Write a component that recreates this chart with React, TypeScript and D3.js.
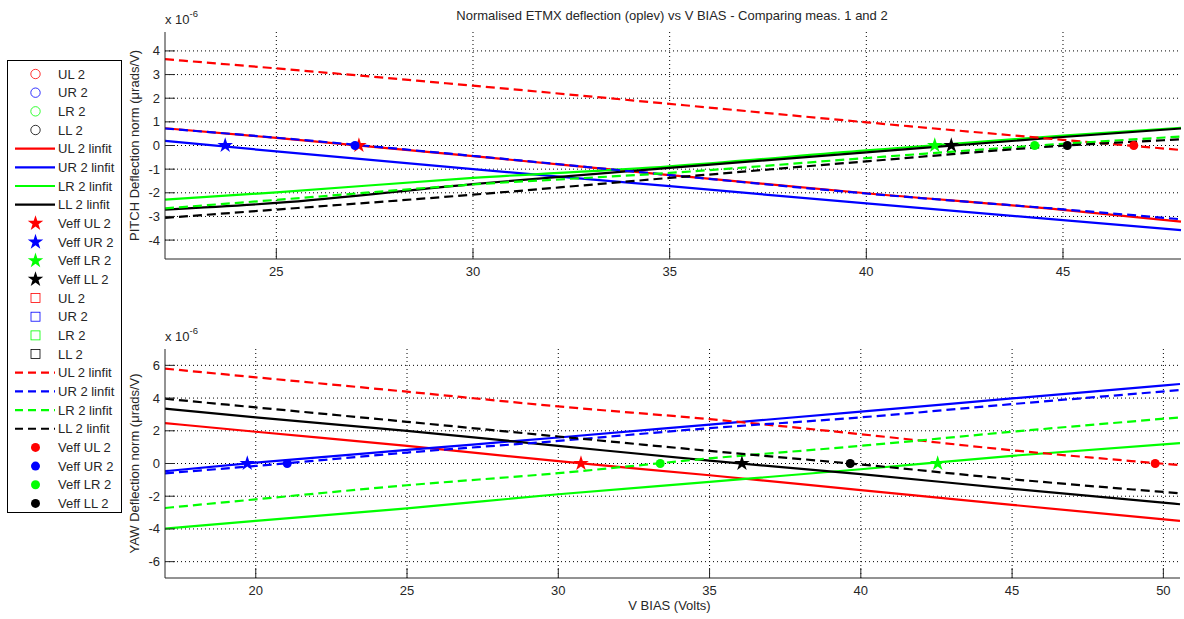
import React from "react";
import * as d3 from "d3";

// ---------- DATA ----------
const title = "Normalised ETMX deflection (oplev) vs V BIAS - Comparing meas. 1 and 2";
const xLabel = "V BIAS (Volts)";
const pitchLabel = "PITCH Deflection norm (\u03bcrads/V)";
const yawLabel = "YAW Deflection norm (\u03bcrads/V)";

const quadrants = ["UL", "UR", "LR", "LL"];
const colors = ["#ff0000", "#0000ff", "#00ff00", "#000000"];

// PITCH (top) panel
const pitchDomainX = [22.17, 48.0];
const pitchDomainY = [-4.8, 4.8];
const pitchTicksX = [25, 30, 35, 40, 45];
const pitchTicksY = [-4, -3, -2, -1, 0, 1, 2, 3, 4];
const pitchX = [22.17, 25, 30, 35, 40, 45, 48];
const pitchFit1UL = [0.73, 0.32, -0.45, -1.25, -2.02, -2.72, -3.22];
const pitchFit1UR = [0.2, -0.25, -1.0, -1.72, -2.45, -3.16, -3.58];
const pitchFit1LR = [-2.29, -1.98, -1.37, -0.88, -0.21, 0.42, 0.75];
const pitchFit1LL = [-2.71, -2.43, -1.63, -0.95, -0.29, 0.36, 0.72];
const pitchFit2UL = [3.65, 3.26, 2.53, 1.76, 0.98, 0.24, -0.19];
const pitchFit2UR = [0.72, 0.33, -0.44, -1.25, -2.03, -2.7, -3.12];
const pitchFit2LR = [-2.66, -2.3, -1.65, -1.16, -0.53, 0.07, 0.38];
const pitchFit2LL = [-3.06, -2.71, -2.08, -1.37, -0.67, -0.01, 0.26];
const pitchVeffStar = [27.1, 23.7, 41.74, 42.16];
const pitchVeffDot = [46.8, 27.0, 44.28, 45.11];

// YAW (bottom) panel
const yawDomainX = [17.0, 50.55];
const yawDomainY = [-7, 7];
const yawTicksX = [20, 25, 30, 35, 40, 45, 50];
const yawTicksY = [-6, -4, -2, 0, 2, 4, 6];
const yawX = [17.0, 20, 25, 30, 35, 40, 45, 50.55];
const yawFit1UL = [2.47, 1.94, 1.08, 0.14, -0.72, -1.63, -2.53, -3.51];
const yawFit1UR = [-0.47, 0.05, 0.83, 1.59, 2.38, 3.17, 3.98, 4.86];
const yawFit1LR = [-3.98, -3.51, -2.74, -1.88, -1.12, -0.35, 0.47, 1.24];
const yawFit1LL = [3.35, 2.82, 2.0, 1.08, 0.17, -0.65, -1.55, -2.49];
const yawFit2UL = [5.8, 5.27, 4.39, 3.49, 2.71, 1.79, 0.81, -0.1];
const yawFit2UR = [-0.6, -0.15, 0.67, 1.38, 2.16, 2.82, 3.63, 4.49];
const yawFit2LR = [-2.72, -2.19, -1.33, -0.59, 0.31, 1.08, 1.94, 2.82];
const yawFit2LL = [3.96, 3.43, 2.55, 1.65, 0.77, -0.06, -0.96, -1.82];
const yawVeffStar = [30.75, 19.72, 42.54, 36.07];
const yawVeffDot = [49.73, 21.04, 33.37, 39.65];

const legendLabels = [
  "UL 2", "UR 2", "LR 2", "LL 2",
  "UL 2 linfit", "UR 2 linfit", "LR 2 linfit", "LL 2 linfit",
  "Veff UL 2", "Veff UR 2", "Veff LR 2", "Veff LL 2",
  "UL 2", "UR 2", "LR 2", "LL 2",
  "UL 2 linfit", "UR 2 linfit", "LR 2 linfit", "LL 2 linfit",
  "Veff UL 2", "Veff UR 2", "Veff LR 2", "Veff LL 2",
];
const legendKinds = ["circle", "solid", "star", "square", "dashed", "dot"];

// ---------- LAYOUT ----------
const W = 1184, H = 619;
const FONT = "'Liberation Sans', Arial, Helvetica, sans-serif";
const FS = 13;
const AXC = "#262626";
const DASH = "9,5";
const STAR_SIZE = 75;

type Panel = {
  left: number; right: number; top: number; bottom: number;
  dx: number[]; dy: number[]; tx: number[]; ty: number[];
  xs: number[]; fit1: number[][]; fit2: number[][];
  stars: number[]; dots: number[]; ylabel: string;
};

const panels: Panel[] = [
  {
    left: 165, right: 1181, top: 32, bottom: 259,
    dx: pitchDomainX, dy: pitchDomainY, tx: pitchTicksX, ty: pitchTicksY,
    xs: pitchX,
    fit1: [pitchFit1UL, pitchFit1UR, pitchFit1LR, pitchFit1LL],
    fit2: [pitchFit2UL, pitchFit2UR, pitchFit2LR, pitchFit2LL],
    stars: pitchVeffStar, dots: pitchVeffDot, ylabel: pitchLabel,
  },
  {
    left: 165, right: 1180, top: 349, bottom: 578,
    dx: yawDomainX, dy: yawDomainY, tx: yawTicksX, ty: yawTicksY,
    xs: yawX,
    fit1: [yawFit1UL, yawFit1UR, yawFit1LR, yawFit1LL],
    fit2: [yawFit2UL, yawFit2UR, yawFit2LR, yawFit2LL],
    stars: yawVeffStar, dots: yawVeffDot, ylabel: yawLabel,
  },
];

function PanelView({ p, showXLabel }: { p: Panel; showXLabel: boolean }) {
  const x = d3.scaleLinear().domain(p.dx).range([p.left, p.right]);
  const y = d3.scaleLinear().domain(p.dy).range([p.bottom, p.top]);
  const line = d3.line<number>().x((_, i) => x(p.xs[i])).y((v) => y(v)).curve(d3.curveMonotoneX);
  const star = d3.symbol().type(d3.symbolStar).size(STAR_SIZE)();
  const clipId = "clip" + p.top;
  const cy = (p.top + p.bottom) / 2;
  return (
    <g>
      <defs>
        <clipPath id={clipId}>
          <rect x={p.left} y={p.top - 8} width={p.right - p.left + 4} height={p.bottom - p.top + 8} />
        </clipPath>
      </defs>
      {/* grid */}
      {p.tx.map((t) => (
        <line key={"gx" + t} x1={x(t)} x2={x(t)} y1={p.top} y2={p.bottom} stroke="#000" strokeWidth={1} strokeDasharray="1,3" />
      ))}
      {p.ty.map((t) => (
        <line key={"gy" + t} x1={p.left} x2={p.right} y1={y(t)} y2={y(t)} stroke="#000" strokeWidth={1} strokeDasharray="1,3" />
      ))}
      {/* series */}
      <g clipPath={`url(#${clipId})`}>
        {p.fit1.map((s, i) => (
          <path key={"f1" + i} d={line(s) || ""} fill="none" stroke={colors[i]} strokeWidth={2.2} />
        ))}
        {p.fit2.map((s, i) => (
          <path key={"f2" + i} d={line(s) || ""} fill="none" stroke={colors[i]} strokeWidth={2.2} strokeDasharray={DASH} />
        ))}
        {p.stars.map((v, i) => (
          <path key={"s" + i} d={star || ""} transform={`translate(${x(v)},${y(0)})`} fill={colors[i]} />
        ))}
        {p.dots.map((v, i) => (
          <circle key={"d" + i} cx={x(v)} cy={y(0)} r={4.5} fill={colors[i]} />
        ))}
      </g>
      {/* axes */}
      <line x1={p.left} x2={p.left} y1={p.top} y2={p.bottom} stroke={AXC} strokeWidth={1} />
      <line x1={p.left} x2={p.right} y1={p.bottom} y2={p.bottom} stroke={AXC} strokeWidth={1} />
      {p.tx.map((t) => (
        <g key={"tx" + t}>
          <line x1={x(t)} x2={x(t)} y1={p.bottom} y2={p.bottom - 10} stroke={AXC} strokeWidth={1} />
          <text x={x(t)} y={p.bottom + 17} textAnchor="middle" fontSize={FS} fill={AXC} fontFamily={FONT}>{t}</text>
        </g>
      ))}
      {p.ty.map((t) => (
        <g key={"ty" + t}>
          <line x1={p.left} x2={p.left + 10} y1={y(t)} y2={y(t)} stroke={AXC} strokeWidth={1} />
          <text x={p.left - 5} y={y(t) + 4.5} textAnchor="end" fontSize={FS} fill={AXC} fontFamily={FONT}>{t}</text>
        </g>
      ))}
      <text x={p.left} y={p.top - 8} fontSize={FS} fill={AXC} fontFamily={FONT}>
        x 10<tspan fontSize={9.5} dy={-7}>-6</tspan>
      </text>
      <text transform={`translate(${p.left - 26},${cy}) rotate(-90)`} textAnchor="middle" fontSize={FS} fill={AXC} fontFamily={FONT}>
        {p.ylabel}
      </text>
      {showXLabel && (
        <text x={(p.left + p.right) / 2 - 3} y={p.bottom + 32} textAnchor="middle" fontSize={FS} fill={AXC} fontFamily={FONT}>{xLabel}</text>
      )}
    </g>
  );
}

function Legend() {
  const x0 = 7.5, y0 = 60.5, w = 114, h = 452;
  const y1 = 74, step = 18.67;
  const star = d3.symbol().type(d3.symbolStar).size(STAR_SIZE)();
  return (
    <g>
      <rect x={x0} y={y0} width={w} height={h} fill="#fff" stroke="#000" strokeWidth={1} />
      {legendLabels.map((lab, i) => {
        const kind = legendKinds[Math.floor(i / 4)];
        const c = colors[i % 4];
        const yy = y1 + i * step;
        const mx = 35.5;
        let mark: React.ReactNode = null;
        if (kind === "circle") mark = <circle cx={mx} cy={yy} r={4.7} fill="none" stroke={c} strokeWidth={0.8} />;
        else if (kind === "square") mark = <rect x={mx - 4.5} y={yy - 4.5} width={9} height={9} fill="none" stroke={c} strokeWidth={0.8} />;
        else if (kind === "solid") mark = <line x1={15} x2={55} y1={yy} y2={yy} stroke={c} strokeWidth={2.2} />;
        else if (kind === "dashed") mark = <line x1={15} x2={55} y1={yy} y2={yy} stroke={c} strokeWidth={2.2} strokeDasharray="8,5" />;
        else if (kind === "star") mark = <path d={star || ""} transform={`translate(${mx},${yy})`} fill={c} />;
        else mark = <circle cx={mx} cy={yy} r={4.5} fill={c} />;
        return (
          <g key={i}>
            {mark}
            <text x={58} y={yy + 4.7} fontSize={FS} fill={AXC} fontFamily={FONT}>{lab}</text>
          </g>
        );
      })}
    </g>
  );
}

export default function App() {
  return (
    <svg width={W} height={H} style={{ position: "absolute", left: 0, top: 0, background: "#fff" }}>
      <rect x={0} y={0} width={W} height={H} fill="#fff" />
      <text x={672} y={20} textAnchor="middle" fontSize={FS} fill={AXC} fontFamily={FONT}>{title}</text>
      {panels.map((p, i) => (
        <PanelView key={i} p={p} showXLabel={i === 1} />
      ))}
      <Legend />
    </svg>
  );
}
